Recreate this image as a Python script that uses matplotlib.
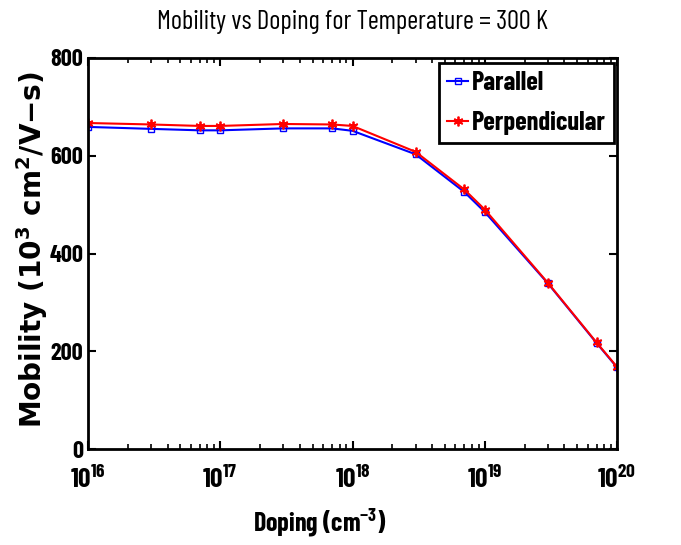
import math
import matplotlib
matplotlib.use("Agg")
import matplotlib.pyplot as plt
from matplotlib import font_manager as fm
from matplotlib.textpath import TextPath
from matplotlib.font_manager import FontProperties
from matplotlib.ticker import LogLocator, NullFormatter, FuncFormatter

doping = [1e16, 3e16, 7e16, 1e17, 3e17, 7e17, 1e18, 3e18, 7e18, 1e19, 3e19, 7e19, 1e20]
parallel = [659, 655, 652, 652, 656, 656, 651, 603, 526, 485, 339, 217, 167]
perpendicular = [667, 664, 661, 661, 665, 664, 661, 608, 531, 490, 340, 218, 168]
series_names = ['Parallel', 'Perpendicular']
title_text = 'Mobility vs Doping for Temperature = 300 K'
xlabel_text = r'Doping (cm$^{\mathsf{-3}}$)'
ylabel_text = 'Mobility (10$^{\\mathbf{3}}$ cm$^{\\mathbf{2}}$/V\u2212s)'


def ink(s, fam, weight='bold'):
    tp = TextPath((0, 0), s, size=100, prop=FontProperties(family=fam, weight=weight))
    e = tp.get_extents()
    return e.width / 100, e.height / 100


# pick the narrow font whose digit shape is closest to the reference
avail = {(f.name, f.weight) for f in fm.fontManager.ttflist}
cands = [c for c in ['Fira Sans Extra Condensed', 'Barlow Condensed', 'PT Sans Narrow',
                     'Roboto Condensed'] if (c, 700) in avail]
target_ratio = 29 / 19
NARROW = min(cands, key=lambda c: abs(math.log(ink('800', c)[0] / ink('800', c)[1] / target_ratio)))


def fit_pt(s, tw, th, fam=None, weight='bold'):
    w, h = ink(s, fam or NARROW, weight)
    px = math.sqrt((tw / w) * (th / h))
    return px * 72 / 100


plt.rcParams['font.family'] = [NARROW, 'DejaVu Sans']
plt.rcParams['font.weight'] = 'bold'
plt.rcParams['mathtext.fontset'] = 'custom'
plt.rcParams['mathtext.sf'] = NARROW + ':bold'
plt.rcParams['mathtext.bf'] = 'DejaVu Sans:bold'
plt.rcParams['mathtext.rm'] = NARROW

W, H = 681, 545
fig = plt.figure(figsize=(W / 100, H / 100), dpi=100)
L, R, T, B = 88, 617, 58, 449
ax = fig.add_axes([L / W, 1 - B / H, (R - L) / W, (B - T) / H])

ax.plot(doping, parallel, color='#0000ff', marker='s', markersize=4.5,
        markerfacecolor='none', markeredgewidth=1.0, linewidth=1.5,
        label=series_names[0])
ax.plot(doping, perpendicular, color='#ff0000', marker=(6, 2, 0), markersize=7,
        markeredgewidth=1.3, linewidth=1.5, label=series_names[1])

ax.set_xscale('log')
ax.set_xlim(1e16, 1e20)
ax.set_ylim(0, 800)
ax.set_yticks([0, 200, 400, 600, 800])
ax.xaxis.set_major_locator(LogLocator(base=10, numticks=10))
ax.xaxis.set_major_formatter(FuncFormatter(
    lambda v, p: r'$\mathsf{10}^{\mathsf{%d}}$' % round(math.log10(v))))
ax.xaxis.set_minor_locator(LogLocator(base=10, subs=range(2, 10), numticks=100))
ax.xaxis.set_minor_formatter(NullFormatter())

for s in ax.spines.values():
    s.set_linewidth(2)
ax.tick_params(axis='both', which='both', direction='in', top=True, right=True)
ax.tick_params(which='major', length=6, width=1.5)
ax.tick_params(which='minor', length=3.5, width=1.2)
ax.tick_params(axis='y', pad=3.5, labelsize=fit_pt('800', 29, 19))
ax.tick_params(axis='x', pad=12, labelsize=fit_pt('10', 20, 19))

title = ax.set_title(title_text, fontsize=fit_pt(title_text, 381, 19 * ink(title_text, NARROW, 'normal')[1] / ink('M', NARROW, 'normal')[1], weight='normal'),
                     fontweight='normal', pad=0, y=(B - 29) / (B - T))
xl = ax.set_xlabel(xlabel_text, fontsize=0.85 * fit_pt('Doping (cm', 110, 24 * ink('Doping (cm', NARROW)[1] / ink('D', NARROW)[1]),
                   fontweight='bold')
ax.xaxis.set_label_coords((320 - L) / (R - L), (B - 506) / (B - T))
yl = ax.set_ylabel(ylabel_text, fontsize=20, family='DejaVu Sans', fontweight='bold')
ax.yaxis.set_label_coords((50 - L) / (R - L), (B - 250) / (B - T))

leg_fs = 0.92 * fit_pt('Perpendicular', 132, 22 * ink('Perpendicular', NARROW)[1] / ink('P', NARROW)[1])


def make_legend(fs, ls=0.5):
    lg = ax.legend(loc='upper right', bbox_to_anchor=(614 / W, 1 - 63 / H),
                   bbox_transform=fig.transFigure, borderaxespad=0,
                   prop={'weight': 'bold', 'size': fs}, fancybox=False,
                   framealpha=1, edgecolor='black', handlelength=21 / (fs * 100 / 72),
                   handletextpad=0.15, borderpad=0.3, labelspacing=ls)
    lg.get_frame().set_linewidth(2)
    return lg


leg = make_legend(leg_fs)
fig.canvas.draw()
rend = fig.canvas.get_renderer()

h = yl.get_window_extent(rend).height
yl.set_fontsize(yl.get_fontsize() * 356 / h)

txts = leg.get_texts()
fpx = leg_fs * 100 / 72
hrow = txts[0].get_window_extent(rend).height
ls = max(0.05, (40 - hrow) / fpx)
leg.remove()
leg = make_legend(leg_fs, ls)

fig.savefig('out.png', dpi=100)
